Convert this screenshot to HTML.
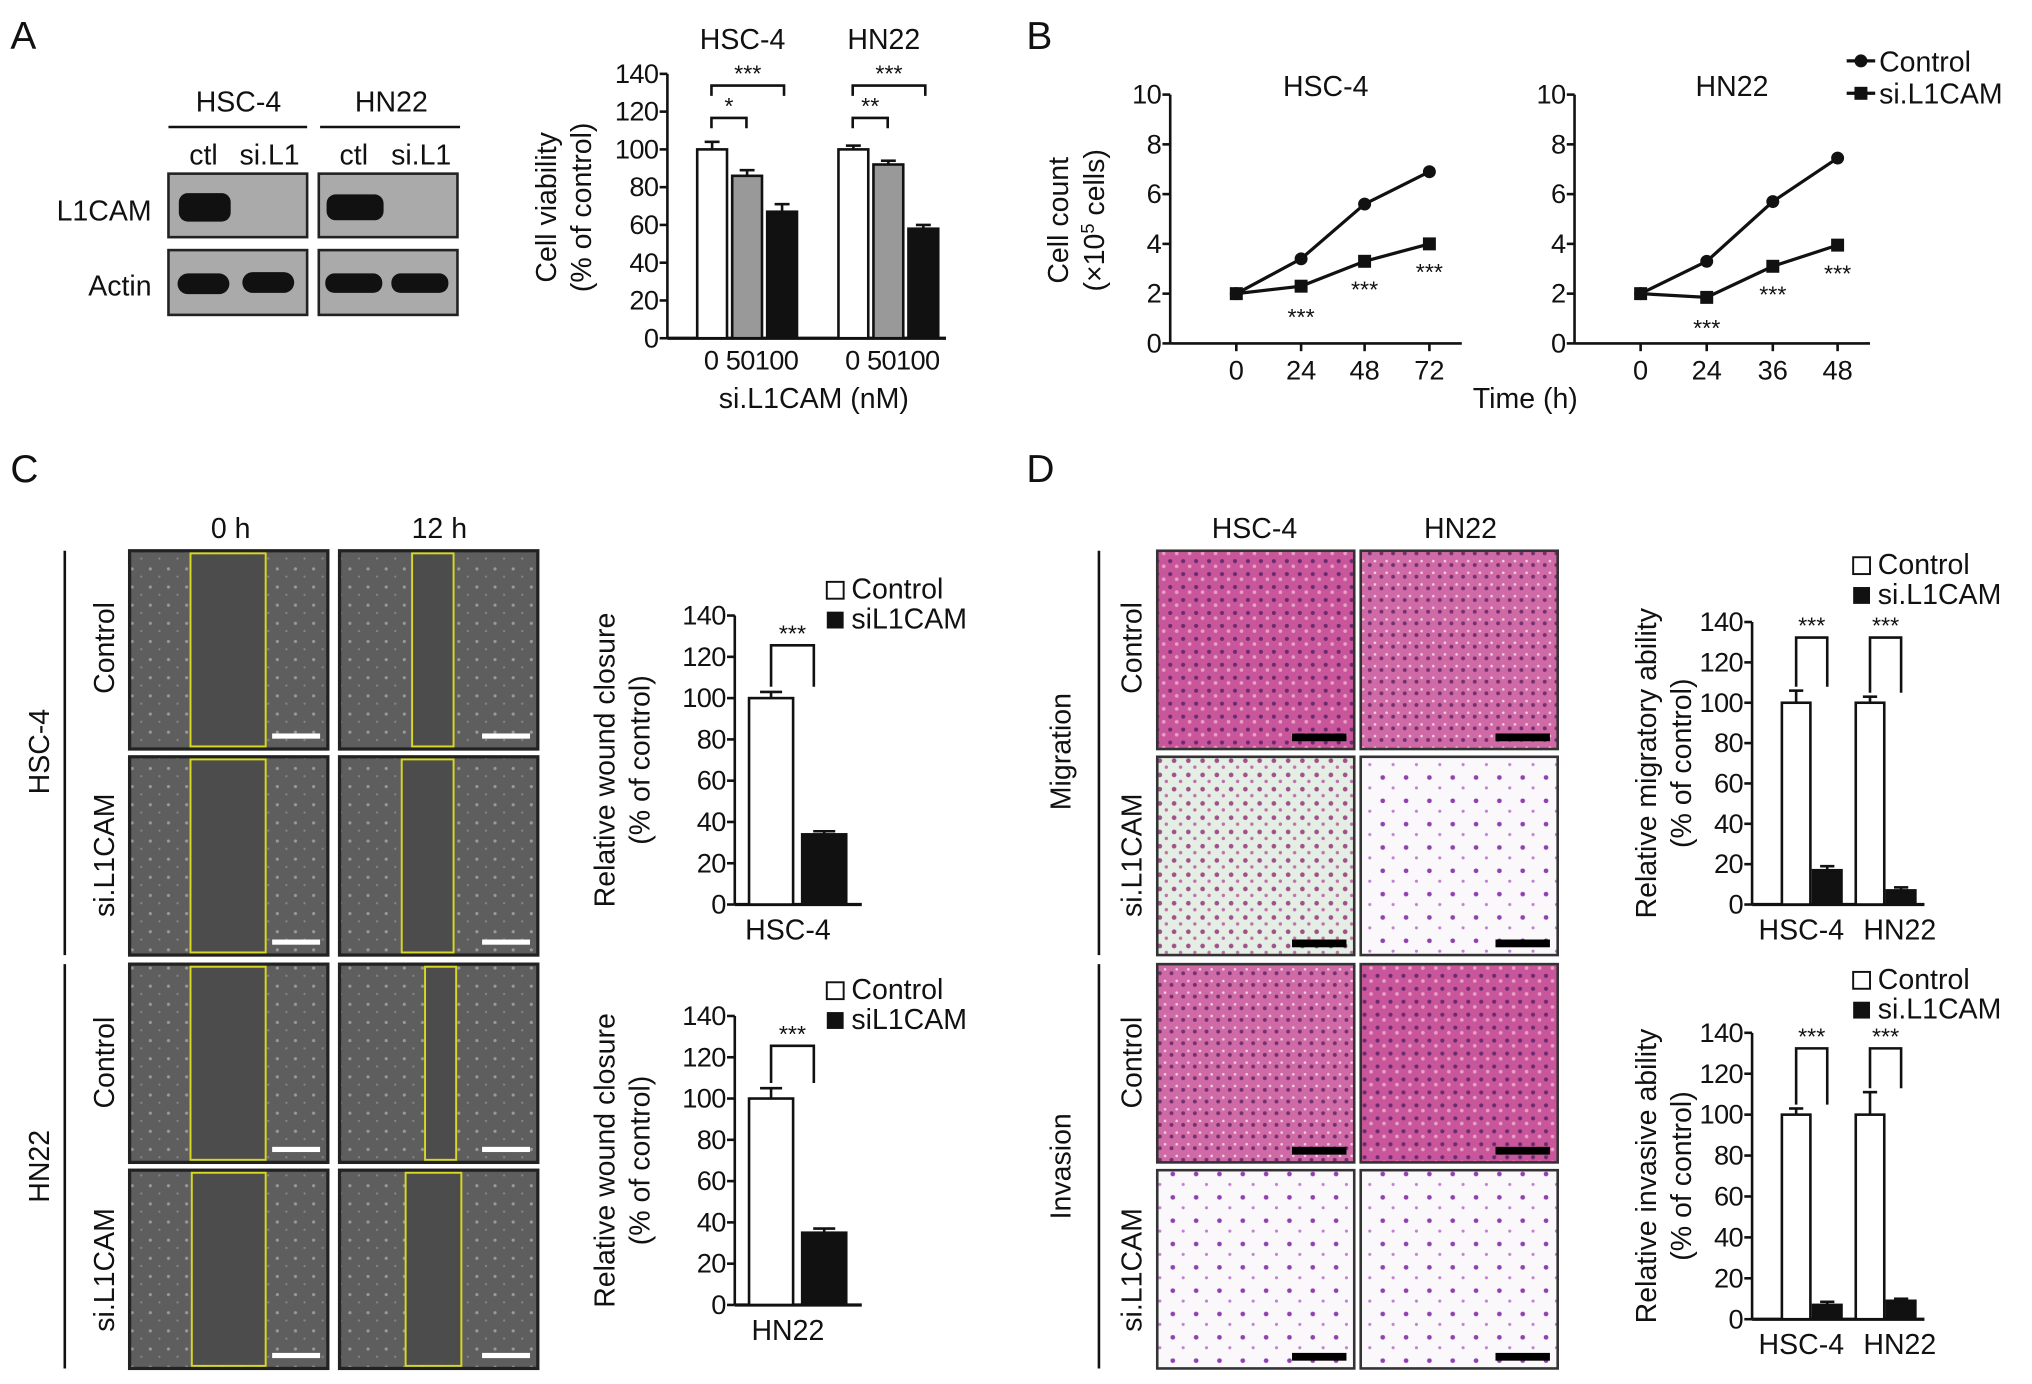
<!DOCTYPE html>
<html><head><meta charset="utf-8"><style>
html,body{margin:0;padding:0;background:#fff}
svg{display:block}
text{font-family:"Liberation Sans",Arial,sans-serif;fill:#111}
</style></head><body>
<svg id="fig" width="2032" height="1384" viewBox="0 0 1568 1068" preserveAspectRatio="none" xmlns="http://www.w3.org/2000/svg">
<defs>
<pattern id="pinkP" width="10" height="10" patternUnits="userSpaceOnUse"><rect width="10" height="10" fill="#c9569a"/><circle cx="3" cy="3" r="1.6" fill="#6a2a70"/><circle cx="8" cy="7" r="1.4" fill="#e8a0c8"/></pattern>
<pattern id="pinkP2" width="9" height="9" patternUnits="userSpaceOnUse"><rect width="9" height="9" fill="#d06aa6"/><circle cx="4" cy="4" r="1.5" fill="#74306e"/><circle cx="8" cy="1" r="1" fill="#f0d0e4"/></pattern>
<pattern id="greenP" width="11" height="11" patternUnits="userSpaceOnUse"><rect width="11" height="11" fill="#e4eee4"/><circle cx="4" cy="4" r="1.8" fill="#a0508a"/><circle cx="9" cy="9" r="1.3" fill="#c070a8"/></pattern>
<pattern id="whiteP" width="18" height="18" patternUnits="userSpaceOnUse"><rect width="18" height="18" fill="#fbf8fc"/><circle cx="5" cy="6" r="1.8" fill="#9040b0"/><circle cx="13" cy="14" r="1.2" fill="#c080d0"/></pattern>
<pattern id="grayP" width="14" height="14" patternUnits="userSpaceOnUse"><rect width="14" height="14" fill="#5e5e5e"/><circle cx="4" cy="5" r="1.2" fill="#9a9a9a"/><circle cx="11" cy="11" r="0.9" fill="#858585"/></pattern>
</defs>

<text x="8" y="38" font-size="30">A</text>
<text x="792" y="38" font-size="30">B</text>
<text x="8" y="372" font-size="30">C</text>
<text x="792" y="372" font-size="30">D</text>

<g>
<text x="184" y="86" font-size="22" text-anchor="middle">HSC-4</text>
<text x="302" y="86" font-size="22" text-anchor="middle">HN22</text>
<line x1="130" y1="98" x2="237" y2="98" stroke="#111" stroke-width="2"/>
<line x1="247" y1="98" x2="355" y2="98" stroke="#111" stroke-width="2"/>
<text x="157" y="127" font-size="22" text-anchor="middle">ctl</text>
<text x="208" y="127" font-size="22" text-anchor="middle">si.L1</text>
<text x="273" y="127" font-size="22" text-anchor="middle">ctl</text>
<text x="325" y="127" font-size="22" text-anchor="middle">si.L1</text>
<text x="117" y="170" font-size="22" text-anchor="end">L1CAM</text>
<text x="117" y="228" font-size="22" text-anchor="end">Actin</text>
<rect x="130" y="134" width="107" height="49" fill="#aaa" stroke="#222" stroke-width="2"/>
<rect x="246" y="134" width="107" height="49" fill="#aaa" stroke="#222" stroke-width="2"/>
<rect x="130" y="193" width="107" height="50" fill="#aaa" stroke="#222" stroke-width="2"/>
<rect x="246" y="193" width="107" height="50" fill="#aaa" stroke="#222" stroke-width="2"/>
<rect x="138" y="149" width="40" height="22" rx="7" fill="#111"/>
<rect x="252" y="150" width="44" height="20" rx="7" fill="#111"/>
<rect x="137" y="211" width="40" height="16" rx="8" fill="#111"/>
<rect x="187" y="210" width="40" height="16" rx="8" fill="#111"/>
<rect x="251" y="211" width="44" height="15" rx="7" fill="#111"/>
<rect x="302" y="211" width="44" height="15" rx="7" fill="#111"/>
</g>

<g id="imgsC">
<text x="178" y="415" font-size="22" text-anchor="middle">0 h</text>
<text x="339" y="415" font-size="22" text-anchor="middle">12 h</text>
<line x1="50" y1="425" x2="50" y2="737" stroke="#111" stroke-width="2"/>
<line x1="50" y1="744" x2="50" y2="1056" stroke="#111" stroke-width="2"/>
<text transform="translate(38,580) rotate(-90)" font-size="22" text-anchor="middle">HSC-4</text>
<text transform="translate(38,900) rotate(-90)" font-size="22" text-anchor="middle">HN22</text>
<text transform="translate(88,500) rotate(-90)" font-size="22" text-anchor="middle">Control</text>
<text transform="translate(88,660) rotate(-90)" font-size="22" text-anchor="middle">si.L1CAM</text>
<text transform="translate(88,820) rotate(-90)" font-size="22" text-anchor="middle">Control</text>
<text transform="translate(88,980) rotate(-90)" font-size="22" text-anchor="middle">si.L1CAM</text>
</g>

<g id="imgsD">
<text x="968" y="415" font-size="22" text-anchor="middle">HSC-4</text>
<text x="1127" y="415" font-size="22" text-anchor="middle">HN22</text>
<line x1="848" y1="425" x2="848" y2="737" stroke="#111" stroke-width="2"/>
<line x1="848" y1="744" x2="848" y2="1056" stroke="#111" stroke-width="2"/>
<text transform="translate(826,580) rotate(-90)" font-size="22" text-anchor="middle">Migration</text>
<text transform="translate(826,900) rotate(-90)" font-size="22" text-anchor="middle">Invasion</text>
<text transform="translate(881,500) rotate(-90)" font-size="22" text-anchor="middle">Control</text>
<text transform="translate(881,660) rotate(-90)" font-size="22" text-anchor="middle">si.L1CAM</text>
<text transform="translate(881,820) rotate(-90)" font-size="22" text-anchor="middle">Control</text>
<text transform="translate(881,980) rotate(-90)" font-size="22" text-anchor="middle">si.L1CAM</text>
</g>

<g id="charts"></g>
</svg>
<script>
const vBarGroups = ["HSC-4","HN22"];
const vDoses = ["0","50","100"];
const vHSC = [100,86,67];
const vHSCerr = [4,3,4];
const vHN = [100,92,58];
const vHNerr = [2,2,2];

const growthHSCtimes = ["0","24","48","72"];
const growthHSCctl = [2,3.4,5.6,6.9];
const growthHSCsi = [2,2.3,3.3,4.0];
const growthHNtimes = ["0","24","36","48"];
const growthHNctl = [2,3.3,5.7,7.45];
const growthHNsi = [2,1.85,3.1,3.95];
const countTicks = [0,2,4,6,8,10];

const pctTicks = [0,20,40,60,80,100,120,140];
const woundHSC = [100,34];
const woundHSCerr = [3,1.5];
const woundHN = [100,35];
const woundHNerr = [5,2];

const migCtl = [100,100];
const migCtlErr = [6,3];
const migSi = [17,7];
const migSiErr = [2,1.5];
const invCtl = [100,100];
const invCtlErr = [3,11];
const invSi = [7,9];
const invSiErr = [1.5,1];

const NS="http://www.w3.org/2000/svg";
const root=document.getElementById('charts');
function el(tag,attrs,parent,txt){const e=document.createElementNS(NS,tag);for(const k in attrs)e.setAttribute(k,attrs[k]);if(txt!==undefined)e.textContent=txt;(parent||root).appendChild(e);return e;}
function grp(name){const g=el('g',{},root);


return g;}
function yAxis(g,x,y0,y1,max,ticks,fs){const sc=v=>y0-(v/max)*(y0-y1);
el('line',{x1:x,y1:y0,x2:x,y2:y1,stroke:'#111','stroke-width':2},g);
ticks.forEach(t=>{el('line',{x1:x-6,y1:sc(t),x2:x,y2:sc(t),stroke:'#111','stroke-width':2},g);
el('text',{x:x-7,y:sc(t)+7,'font-size':fs||21,'text-anchor':'end','letter-spacing':'-0.5'},g,String(t));});return sc;}
function bar(g,x,w,v,e,sc,fill,name){const r=el('rect',{x:x,y:sc(v),width:w,height:sc(0)-sc(v),fill:fill,stroke:'#111','stroke-width':2},g);


const ey=sc(v+e);el('line',{x1:x+w/2,y1:sc(v),x2:x+w/2,y2:ey,stroke:'#111','stroke-width':2},g);
el('line',{x1:x+w/2-w*0.25,y1:ey,x2:x+w/2+w*0.25,y2:ey,stroke:'#111','stroke-width':2},g);}
function bracket(g,x1,x2,y,h,label){el('path',{d:`M${x1},${y+h} V${y} H${x2} V${y+h}`,fill:'none',stroke:'#111','stroke-width':2},g);
el('text',{x:(x1+x2)/2,y:y-3,'font-size':18,'text-anchor':'middle'},g,label);}
function ytitle(g,x,cy,l1,l2){el('text',{transform:`translate(${x},${cy}) rotate(-90)`,'font-size':22,'text-anchor':'middle'},g,l1);
el('text',{transform:`translate(${x+27},${cy}) rotate(-90)`,'font-size':22,'text-anchor':'middle'},g,l2);}
function legend(g,x,y,l1,l2){el('rect',{x:x,y:y-13,width:13,height:13,fill:'#fff',stroke:'#111','stroke-width':1.5},g);
el('text',{x:x+19,y:y,'font-size':22},g,l1);
el('rect',{x:x,y:y+10,width:13,height:13,fill:'#111'},g);
el('text',{x:x+19,y:y+23,'font-size':22},g,l2);}

(function(){const g=grp('viability-bar-chart');
const sc=yAxis(g,515,261,57,140,pctTicks);
el('line',{x1:515,y1:261,x2:730,y2:261,stroke:'#111','stroke-width':2.5},g);
const fills=['#fff','#999','#111'];const starts=[538,647];const bw=23,gap=4;
[vHSC,vHN].forEach((vals,gi)=>{const errs=gi?vHNerr:vHSCerr;
vals.forEach((v,i)=>{bar(g,starts[gi]+i*(bw+gap),bw,v,errs[i],sc,fills[i],'bar-'+vBarGroups[gi].toLowerCase()+'-'+vDoses[i]);});
el('text',{x:starts[gi]+35,y:38,'font-size':22,'text-anchor':'middle'},g,vBarGroups[gi]);
el('text',{x:starts[gi]+11,y:285,'font-size':21,'text-anchor':'middle'},g,vDoses[0]);
el('text',{x:starts[gi]+50,y:285,'font-size':21,'text-anchor':'middle','letter-spacing':'-0.5'},g,vDoses[1]+vDoses[2]);
bracket(g,starts[gi]+11,starts[gi]+67,66,8,'***');
bracket(g,starts[gi]+11,starts[gi]+38,91,8,gi?'**':'*');});
el('text',{x:628,y:315,'font-size':22,'text-anchor':'middle'},g,'si.L1CAM (nM)');
ytitle(g,429,160,'Cell viability','(% of control)');})();

function growth(name,ax,xs,labels,ctl,si,title){const g=grp(name);
const sc=yAxis(g,ax,265,73,10,countTicks);
el('line',{x1:ax,y1:265,x2:xs[xs.length-1]+25,y2:265,stroke:'#111','stroke-width':2},g);
labels.forEach((l,i)=>{el('line',{x1:xs[i],y1:265,x2:xs[i],y2:271,stroke:'#111','stroke-width':2},g);
el('text',{x:xs[i],y:293,'font-size':21,'text-anchor':'middle'},g,l);});
el('text',{x:(ax+xs[xs.length-1])/2+20,y:74,'font-size':22,'text-anchor':'middle'},g,title);
const lc=el('polyline',{points:ctl.map((v,i)=>xs[i]+','+sc(v)).join(' '),fill:'none',stroke:'#111','stroke-width':2.5},g);


const ls=el('polyline',{points:si.map((v,i)=>xs[i]+','+sc(v)).join(' '),fill:'none',stroke:'#111','stroke-width':2.5},g);


ctl.forEach((v,i)=>{const c=el('circle',{cx:xs[i],cy:sc(v),r:5,fill:'#111'},g);

});
si.forEach((v,i)=>{const s=el('rect',{x:xs[i]-5,y:sc(v)-5,width:10,height:10,fill:'#111'},g);


if(i>0)el('text',{x:xs[i],y:sc(v)+(i==1?30:28),'font-size':18,'text-anchor':'middle'},g,'***');});
return g;}
growth('growth-chart-hsc4',903,[954,1004,1053,1103],growthHSCtimes,growthHSCctl,growthHSCsi,'HSC-4');
growth('growth-chart-hn22',1215,[1266,1317,1368,1418],growthHNtimes,growthHNctl,growthHNsi,'HN22');
(function(){const g=grp('growth-legend-and-titles');
el('line',{x1:1425,y1:47,x2:1447,y2:47,stroke:'#111','stroke-width':2.5},g);
el('circle',{cx:1436,cy:47,r:5,fill:'#111'},g);
el('text',{x:1450,y:55,'font-size':22},g,'Control');
el('line',{x1:1425,y1:72,x2:1447,y2:72,stroke:'#111','stroke-width':2.5},g);
el('rect',{x:1431,y:67,width:10,height:10,fill:'#111'},g);
el('text',{x:1450,y:80,'font-size':22},g,'si.L1CAM');
el('text',{x:1177,y:315,'font-size':22,'text-anchor':'middle'},g,'Time (h)');
el('text',{transform:'translate(824,170) rotate(-90)','font-size':22,'text-anchor':'middle'},g,'Cell count');
const t=el('text',{transform:'translate(852,170) rotate(-90)','font-size':22,'text-anchor':'middle'},g);
t.innerHTML='(×10<tspan dy="-8" font-size="14">5</tspan><tspan dy="8"> cells)</tspan>';})();

function wound(name,y0,y1,vals,errs,label,ly){const g=grp(name);
const sc=yAxis(g,567,y0,y1,140,pctTicks);
el('line',{x1:567,y1:y0,x2:665,y2:y0,stroke:'#111','stroke-width':2.5},g);
bar(g,578,34,vals[0],errs[0],sc,'#fff','bar-control');
bar(g,619,34,vals[1],errs[1],sc,'#111','bar-sil1cam');
el('text',{x:608,y:y0+27,'font-size':22,'text-anchor':'middle'},g,label);
bracket(g,595,628,y1+23,sc(vals[0]+errs[0])-(y1+23)-4,'***');
ytitle(g,474,(y0+y1)/2,'Relative wound closure','(% of control)');
legend(g,638,ly,'Control','siL1CAM');}
wound('wound-closure-chart-hsc4',698,475,woundHSC,woundHSCerr,'HSC-4',462);
wound('wound-closure-chart-hn22',1007,784,woundHN,woundHNerr,'HN22',771);

function transwell(name,y0,y1,ctl,ce,si,se,t1,ly){const g=grp(name);
const sc=yAxis(g,1352,y0,y1,140,pctTicks);
el('line',{x1:1352,y1:y0,x2:1485,y2:y0,stroke:'#111','stroke-width':2.5},g);
const st=[1375,1432];const labs=['HSC-4','HN22'];
st.forEach((x,i)=>{bar(g,x,22,ctl[i],ce[i],sc,'#fff','bar-control-'+labs[i].toLowerCase());
bar(g,x+24,22,si[i],se[i],sc,'#111','bar-sil1cam-'+labs[i].toLowerCase());
bracket(g,x+11,x+35,y1+12,sc(ctl[i]+ce[i])-(y1+12)-3,'***');});
el('text',{x:1390,y:y0+27,'font-size':22,'text-anchor':'middle'},g,'HSC-4');
el('text',{x:1466,y:y0+27,'font-size':22,'text-anchor':'middle'},g,'HN22');
ytitle(g,1278,(y0+y1)/2,t1,'(% of control)');
legend(g,1430,ly,'Control','si.L1CAM');}
transwell('migration-chart',698,480,migCtl,migCtlErr,migSi,migSiErr,'Relative migratory ability',443);
transwell('invasion-chart',1018,797,invCtl,invCtlErr,invSi,invSiErr,'Relative invasive ability',763);

(function(){const g=document.getElementById('imgsC');
const rows=[425,584,744,903],cols=[100,262];
const gaps=[[[147,205],[318,350]],[[147,205],[310,350]],[[147,205],[328,352]],[[148,205],[313,356]]];
rows.forEach((y,r)=>cols.forEach((x,c)=>{el('rect',{x:x,y:y,width:153,height:153,fill:'url(#grayP)',stroke:'#222','stroke-width':2.5},g);
const gp=gaps[r][c];el('rect',{x:gp[0],y:y+2,width:gp[1]-gp[0],height:149,fill:'#4c4c4c',stroke:'#d8d820','stroke-width':1.5},g);
el('rect',{x:x+110,y:y+141,width:37,height:4,fill:'#fff'},g);}));})();
(function(){const g=document.getElementById('imgsD');
const rows=[425,584,744,903],cols=[893,1050];
const fills=[['url(#pinkP)','url(#pinkP2)'],['url(#greenP)','url(#whiteP)'],['url(#pinkP2)','url(#pinkP)'],['url(#whiteP)','url(#whiteP)']];
rows.forEach((y,r)=>cols.forEach((x,c)=>{el('rect',{x:x,y:y,width:152,height:153,fill:fills[r][c],stroke:'#333','stroke-width':2},g);
el('rect',{x:x+104,y:y+141,width:42,height:6,fill:'#000'},g);}));})();
</script>
</body></html>
